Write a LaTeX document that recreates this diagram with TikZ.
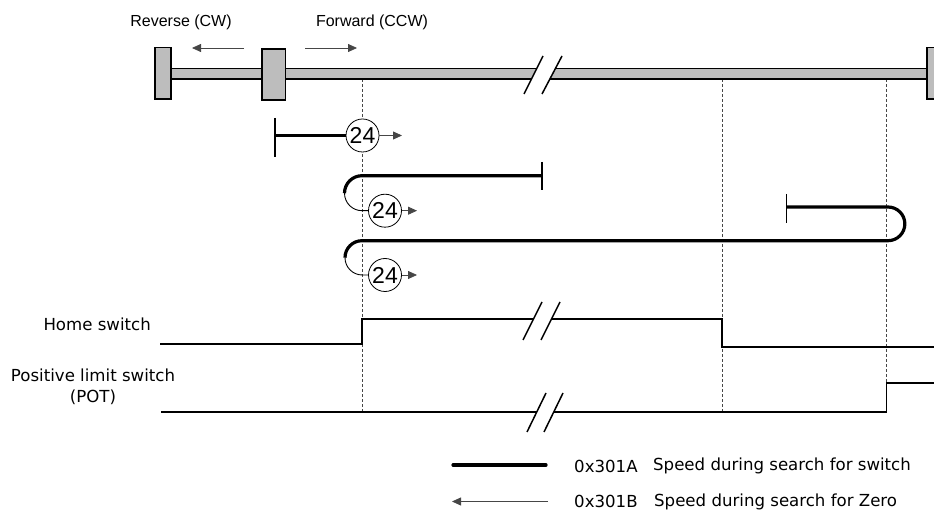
\documentclass[tikz,border=0pt]{standalone}
\usepackage{fontspec}
\setmainfont{Liberation Sans}
\newfontfamily\widefont{DejaVu Sans}
\usetikzlibrary{
    arrows.meta,
    positioning,
    calc
}
\tikzset{
  stopper/.style = {draw, line width=1.5pt, fill=RailGray, inner sep=0pt},
  toplbl/.style  = {inner sep=0pt, font=\fontsize{16}{18}\selectfont},
  lbl/.style     = {inner sep=0pt, font=\widefont\fontsize{16.6}{21}\selectfont, align=center},
  speed/.style   = {draw, circle, fill=white, inner sep=0pt, minimum size=33pt,
                    line width=0.8pt, font=\fontsize{23}{23}\selectfont},
  arrg/.style    = {-{Triangle[length=9pt,width=8pt]}, DarkGray, line width=0.8pt},
  hline/.style   = {line width=3.2pt},
  thin arc/.style = {line width=0.9pt},
  sig/.style     = {line width=1.7pt},
  guide/.style   = {densely dashed, line width=0.6pt, DarkGray},
  stopbar/.style = {line width=1.5pt}
}
\definecolor{RailGray}{RGB}{189,189,189}
\definecolor{DarkGray}{RGB}{70,70,70}
\begin{document}
\begin{tikzpicture}[x=1pt, y=-1pt]
\useasboundingbox (0,0) rectangle (934,510);
% guides
\coordinate (g1t) at (362,79);
\coordinate (g1b) at (362,412);
\coordinate (g2t) at (722,79);
\coordinate (g2b) at (722,412);
\coordinate (g3t) at (886,79);
\coordinate (g3b) at (886,412);
\draw[guide] (g1t) -- (g1b);
\draw[guide] (g2t) -- (g2b);
\draw[guide] (g3t) -- (g3b);

% rail
\draw[line width=1.5pt, fill=RailGray] (171,68.3) rectangle (940,79);
\node[stopper, minimum width=16pt, minimum height=51.5pt] (lstop) at (163,73.5) {};
\node[stopper, minimum width=23.5pt, minimum height=51pt] (carriage) at (273.5,74.5) {};
\node[stopper, minimum width=16pt, minimum height=51.5pt] (rstop) at (935,73.5) {};

% rail break
\fill[white] (524,94) -- (543,56) -- (562,56) -- (542,94) -- cycle;
\draw[stopbar] (524,94) -- (543,56);
\draw[stopbar] (542,94) -- (562,56);

% direction
\node[toplbl] (rev) at (181,22) {Reverse (CW)};
\node[toplbl] (fwd) at (372,22) {Forward (CCW)};
\coordinate (revs) at (244,48);
\coordinate (reve) at (192,48);
\coordinate (fwds) at (305,48);
\coordinate (fwde) at (357,48);
\draw[arrg] (revs) -- (reve);
\draw[arrg] (fwds) -- (fwde);

% first path
\coordinate (p1) at (275,135.5);
\node[speed] (s1) at (362.5,135.5) {24};
\coordinate (s1e) at (402,135.5);
\draw[stopbar] (275,118) -- (275,157);
\draw[hline] (p1) -- (s1);
\draw[arrg] (s1) -- (s1e);

% second path
\coordinate (p2) at (542,175.7);
\node[speed] (s2) at (385,210.7) {24};
\coordinate (s2e) at (417,210.7);
\draw[stopbar] (542,162) -- (542,190.5);
\draw[hline] (p2) -- (362,175.7) arc[start angle=270, end angle=180, radius=17.5];
\draw[thin arc] (344.5,193.2) arc[start angle=180, end angle=90, radius=17.5] -- (s2);
\draw[arrg] (s2) -- (s2e);

% third path
\coordinate (p3) at (786.5,207);
\node[speed] (s3) at (385,275) {24};
\coordinate (s3e) at (417,275);
\draw[stopbar] (786.5,194) -- (786.5,223);
\draw[hline] (p3) -- (888,207) arc[start angle=270, end angle=450, radius=16.85]
   -- (362,240.7) arc[start angle=270, end angle=180, radius=17];
\draw[thin arc] (345,257.7) arc[start angle=180, end angle=90, radius=17.3] -- (s3);
\draw[arrg] (s3) -- (s3e);

% signals
\node[lbl, anchor=east] (home) at (151,324) {Home switch};
\node[lbl] (pot) at (93,386.5) {Positive limit switch\\(POT)};
\draw[sig] (160,344) -- (362,344) -- (362,319) -- (722,319) -- (722,347) -- (940,347);
\draw[sig] (161,411.7) -- (886.5,411.7) -- (886.5,383) -- (940,383);

% signal breaks
\fill[white] (523,340) -- (542,302) -- (560,302) -- (541,340) -- cycle;
\fill[white] (527,432) -- (546,393) -- (563,393) -- (544,432) -- cycle;
\draw[stopbar] (523,340) -- (542,302);
\draw[stopbar] (541,340) -- (560,302);
\draw[stopbar] (527,432) -- (546,393);
\draw[stopbar] (544,432) -- (563,393);

% legend
\coordinate (la) at (453,465);
\coordinate (lb) at (546,465);
\coordinate (lc) at (548,501.5);
\coordinate (ld) at (452,501.5);
\draw[line width=3.2pt, line cap=round] (la) -- (lb);
\draw[arrg] (lc) -- (ld);
\node[lbl, anchor=west] (code1) at (574,466) {0x301A};
\node[lbl, anchor=west] (text1) at (653,466) {Speed during search for switch};
\node[lbl, anchor=west] (code2) at (574,501.5) {0x301B};
\node[lbl, anchor=west] (text2) at (654,501.5) {Speed during search for Zero};
\end{tikzpicture}
\end{document}
